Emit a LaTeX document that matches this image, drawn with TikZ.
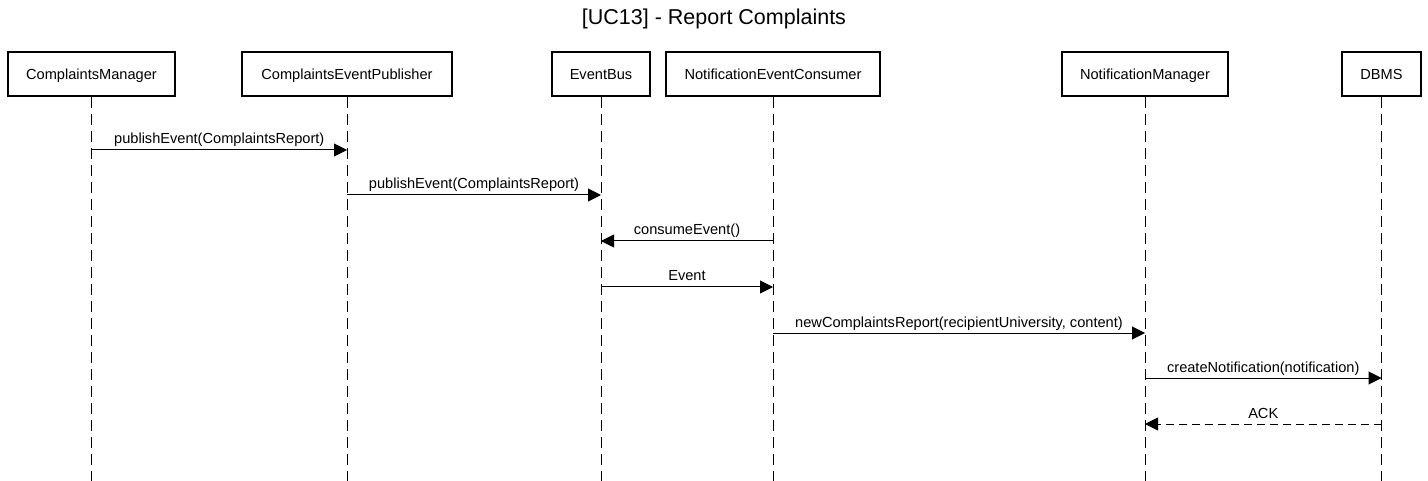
\documentclass[tikz,border=0pt]{standalone}
\usepackage{fontspec}
\setmainfont{Liberation Sans}
\usetikzlibrary{arrows.meta}
\tikzset{
  part/.style={draw=black, line width=2pt, minimum height=44pt, inner sep=0pt, font=\fontsize{14.6}{16}\selectfont, text depth=0pt},
  life/.style={line width=1pt, dash pattern=on 11pt off 6pt},
  msg/.style={line width=1pt, -{Triangle[length=13pt,width=13pt]}},
  reply/.style={msg, dash pattern=on 8pt off 5pt},
  lbl/.style={anchor=base, inner sep=0pt, font=\fontsize{14.6}{16}\selectfont, yshift=6pt},
}
\begin{document}
\begin{tikzpicture}[x=1pt,y=-1pt]
\useasboundingbox (0,0) rectangle (1428,481);
\node[anchor=base, inner sep=0pt, font=\fontsize{21.5}{24}\selectfont] (title) at (714,25) {[UC13] - Report Complaints};

\node[part, minimum width=167pt] (cm) at (91.5,74) {ComplaintsManager};
\node[part, minimum width=210pt] (cep) at (347,74) {ComplaintsEventPublisher};
\node[part, minimum width=98pt] (eb) at (601,74) {EventBus};
\node[part, minimum width=214pt] (nec) at (773,74) {NotificationEventConsumer};
\node[part, minimum width=166pt] (nm) at (1145,74) {NotificationManager};
\node[part, minimum width=79pt] (db) at (1381.5,74) {DBMS};

\foreach \p in {cm,cep,eb,nec,nm,db}{
  \coordinate (\p-end) at (\p.south |- 0,481);
  \draw[life] (\p.south) -- (\p-end);
}

% message anchor points on lifelines
\coordinate (m1a) at (cm.south |- 0,150);  \coordinate (m1b) at (cep.south |- 0,150);
\coordinate (m2a) at (cep.south |- 0,195); \coordinate (m2b) at (eb.south |- 0,195);
\coordinate (m3a) at (nec.south |- 0,241); \coordinate (m3b) at (eb.south |- 0,241);
\coordinate (m4a) at (eb.south |- 0,287);  \coordinate (m4b) at (nec.south |- 0,287);
\coordinate (m5a) at (nec.south |- 0,333); \coordinate (m5b) at (nm.south |- 0,333);
\coordinate (m6a) at (nm.south |- 0,378);  \coordinate (m6b) at (db.south |- 0,378);
\coordinate (m7a) at (db.south |- 0,424);  \coordinate (m7b) at (nm.south |- 0,424);

\draw[msg] (m1a) -- (m1b) node[lbl, midway] (l1) {publishEvent(ComplaintsReport)};
\draw[msg] (m2a) -- (m2b) node[lbl, midway] (l2) {publishEvent(ComplaintsReport)};
\draw[msg] (m3a) -- (m3b) node[lbl, midway] (l3) {consumeEvent()};
\draw[msg] (m4a) -- (m4b) node[lbl, midway] (l4) {Event};
\draw[msg] (m5a) -- (m5b) node[lbl, midway] (l5) {newComplaintsReport(recipientUniversity, content)};
\draw[msg] (m6a) -- (m6b) node[lbl, midway] (l6) {createNotification(notification)};
\draw[reply] (m7a) -- (m7b) node[lbl, midway] (l7) {ACK};
\end{tikzpicture}
\end{document}
